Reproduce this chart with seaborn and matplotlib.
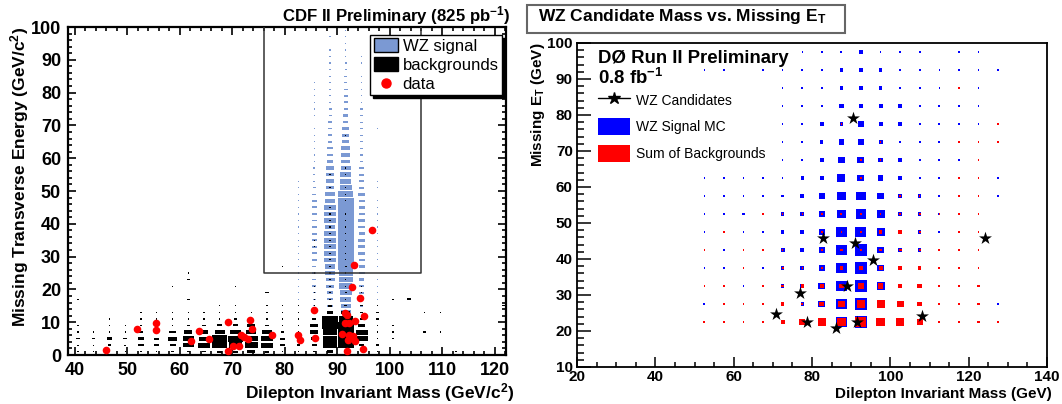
import numpy as np
import pandas as pd
import matplotlib
matplotlib.use("Agg")
import matplotlib.pyplot as plt
import seaborn as sns
from matplotlib.patches import Patch, Rectangle
from matplotlib.lines import Line2D
from matplotlib.ticker import MultipleLocator

# ---------------- data: left panel (CDF) ----------------
cdf_mass_bins = [40.6, 43.6, 46.6, 49.6, 52.6, 55.6, 58.6, 61.6, 64.6, 67.6, 70.6, 73.6, 76.6, 79.6,
                 82.6, 85.6, 88.6, 91.6, 94.6, 97.6, 100.6, 103.6, 106.6, 109.6, 112.6, 115.6, 118.6, 121.6]
cdf_met_bins = [1, 3, 5, 7, 9, 11, 13, 15, 17, 19, 21, 23, 25, 27, 29, 31, 33, 35, 37, 39, 41, 43, 45, 47, 49,
                51, 53, 55, 57, 59, 61, 63, 65, 67, 69, 71, 73, 75, 77, 79, 81, 83, 85, 87, 89, 91, 93, 95, 97, 99]

# background box content per mass column, listed from the lowest MET bin upward
cdf_background = {
    40.6: [6, 6, 21, 6, 6, 0, 0, 0, 13],
    43.6: [6, 6, 17, 6],
    46.6: [6, 21, 34, 6, 6, 6],
    49.6: [6, 13, 26, 6, 6],
    52.6: [6, 34, 38, 21, 6, 6, 6],
    55.6: [6, 34, 30, 17, 6, 6, 6],
    58.6: [17, 38, 60, 43, 6, 6, 6, 0, 0, 0, 6],
    61.6: [21, 68, 68, 51, 17, 6, 6, 0, 17, 0, 0, 17, 6],
    64.6: [21, 77, 62, 51, 21, 6, 6],
    67.6: [30, 94, 98, 66, 30, 6, 6, 6],
    70.6: [30, 85, 94, 68, 30, 17, 6, 6, 0, 0, 6],
    73.6: [51, 85, 85, 64, 51, 21, 6],
    76.6: [30, 77, 77, 64, 21, 6, 6, 6, 0, 21],
    79.6: [6, 30, 30, 21, 6, 6, 6, 6, 0, 0, 0, 0, 0, 6],
    82.6: [6, 21, 21, 6, 6, 6, 6, 6],
    85.6: [17, 30, 38, 51, 51, 26, 21, 6, 6, 6, 6, 0, 6, 0, 0, 0, 6, 6],
    88.6: [43, 94, 94, 85, 98, 98, 43, 26, 17, 6, 6, 6, 6, 6, 6, 6, 6, 6, 6, 6, 6, 6, 6, 0, 0, 6, 0, 6],
    91.6: [26, 100, 100, 100, 100, 85, 55, 21, 6, 13, 6, 6, 6, 13, 6, 6, 6, 6, 6, 6, 6, 6, 0, 6, 6, 6,
           0, 6, 6, 0, 0, 0, 0, 6],
    94.6: [6, 30, 77, 77, 47, 21, 21, 21, 6, 6, 6],
    97.6: [6, 21, 6, 6, 6, 17, 17, 6],
    100.6: [0, 0, 6, 6, 6, 0, 0, 0, 13],
    103.6: [0, 0, 0, 0, 0, 0, 0, 0, 26],
    106.6: [0, 0, 0, 17, 0, 0, 6],
    109.6: [0, 0, 0, 6, 0, 0, 6],
    112.6: [6],
    121.6: [0, 0, 0, 0, 0, 0, 0, 17],
}

# WZ signal box content per mass column, lowest MET bin upward (50 bins)
cdf_signal = {
    82.6: [0, 0, 0, 0, 0, 6, 6, 6, 6, 6, 6, 6, 6, 6, 6, 6, 6, 6, 6, 6, 6, 6, 6, 6, 6,
           6, 6, 0, 0, 0, 0, 0, 0, 0, 0, 0, 0, 0, 0, 0, 0, 0, 0, 0, 0, 0, 0, 0, 0, 0],
    85.6: [6, 6, 6, 6, 9, 9, 13, 13, 17, 17, 21, 21, 21, 21, 26, 26, 30, 26, 26, 26, 26, 26, 26, 26, 21,
           17, 13, 11, 11, 9, 6, 6, 6, 6, 6, 0, 6, 6, 6, 6, 6, 6, 0, 0, 0, 0, 0, 0, 0, 0],
    88.6: [6, 10, 12, 15, 18, 22, 26, 30, 34, 38, 43, 51, 55, 60, 64, 72, 68, 64, 64, 60, 64, 64, 64, 60, 60,
           47, 47, 47, 43, 38, 30, 30, 26, 21, 21, 21, 17, 17, 13, 13, 13, 13, 11, 9, 6, 6, 6, 0, 6, 0],
    91.6: [20, 30, 35, 40, 45, 50, 55, 60, 64, 68, 75, 77, 81, 85, 94, 98, 98, 94, 88, 94, 94, 94, 94, 88, 85,
           68, 64, 64, 60, 51, 51, 51, 38, 38, 38, 30, 30, 26, 26, 26, 21, 17, 17, 13, 13, 6, 6, 6, 6, 6],
    94.6: [6, 6, 9, 9, 13, 13, 17, 21, 21, 26, 30, 30, 34, 34, 34, 38, 38, 38, 34, 38, 38, 34, 34, 34, 38,
           30, 30, 26, 30, 21, 21, 17, 17, 13, 13, 13, 13, 13, 9, 9, 6, 6, 6, 0, 6, 6, 0, 0, 0, 0],
    97.6: [0, 0, 0, 0, 0, 0, 6, 0, 6, 6, 6, 6, 0, 6, 6, 6, 6, 6, 6, 6, 6, 6, 6, 6, 0,
           6, 6, 0, 0, 0, 0, 0, 0, 0, 6, 0, 0, 0, 0, 0, 0, 0, 0, 0, 0, 0, 0, 0, 0, 0],
}

cdf_data_mass = [45.85, 51.8, 55.5, 55.5, 62.1, 63.6, 65.5, 69.1, 69.1, 70.1, 71.3, 71.7, 72.2, 72.9,
                 73.4, 73.7, 77.5, 82.55, 82.9, 85.6, 85.8, 90.9, 91.4, 91.8, 91.5, 92.0, 91.9, 92.2,
                 92.3, 92.7, 93.2, 93.0, 93.3, 93.4, 94.3, 95.1, 94.8, 96.6]
cdf_data_met = [1.5, 7.8, 9.9, 7.6, 4.2, 7.4, 5.0, 10.1, 1.3, 2.8, 2.6, 6.1, 5.4, 4.8,
                10.7, 7.8, 6.2, 6.2, 4.6, 13.8, 5.2, 6.4, 12.7, 12.3, 9.9, 4.6, 1.3, 6.2,
                9.9, 20.7, 27.5, 5.9, 4.2, 10.5, 17.3, 12.0, 1.8, 38.2]
cdf_signal_region_mass = [76, 106]
cdf_signal_region_met = [25, 100]

# ---------------- data: right panel (D0) ----------------
d0_mass_bins = [52.5, 57.5, 62.5, 67.5, 72.5, 77.5, 82.5, 87.5, 92.5, 97.5, 102.5, 107.5, 112.5, 117.5, 122.5, 127.5]
d0_met_bins = [97.5, 92.5, 87.5, 82.5, 77.5, 72.5, 67.5, 62.5, 57.5, 52.5, 47.5, 42.5, 37.5, 32.5, 27.5, 22.5]
d0_signal = [
    [0, 0, 0, 0, 0, 5, 8, 8, 14, 8, 8, 7, 0, 5, 5, 0],
    [5, 5, 0, 5, 7, 10, 10, 14, 15, 15, 10, 8, 5, 5, 5, 5],
    [0, 0, 0, 0, 5, 10, 10, 15, 20, 15, 10, 10, 5, 0, 5, 0],
    [0, 0, 0, 0, 7, 10, 10, 19, 20, 17, 14, 10, 7, 5, 5, 0],
    [0, 0, 0, 0, 5, 10, 15, 15, 24, 17, 14, 10, 10, 5, 5, 0],
    [0, 0, 0, 0, 7, 10, 14, 24, 24, 17, 10, 10, 10, 0, 0, 0],
    [0, 0, 0, 0, 7, 10, 17, 27, 30, 20, 14, 10, 10, 5, 0, 0],
    [5, 5, 7, 7, 7, 14, 17, 34, 30, 24, 14, 10, 7, 0, 0, 5],
    [5, 5, 5, 8, 10, 15, 24, 37, 41, 27, 14, 14, 10, 7, 0, 5],
    [5, 8, 10, 10, 14, 17, 27, 37, 44, 34, 17, 14, 10, 0, 0, 0],
    [5, 0, 8, 8, 14, 17, 27, 44, 47, 34, 17, 14, 7, 0, 0, 0],
    [0, 8, 8, 8, 17, 17, 27, 44, 51, 30, 17, 14, 0, 0, 0, 0],
    [5, 5, 8, 8, 14, 15, 27, 44, 51, 30, 17, 0, 0, 0, 0, 0],
    [5, 8, 8, 8, 14, 17, 30, 47, 54, 34, 0, 0, 0, 0, 0, 0],
    [10, 8, 8, 0, 0, 14, 30, 44, 51, 0, 0, 0, 0, 0, 0, 5],
    [0, 0, 0, 0, 0, 0, 0, 44, 51, 0, 0, 0, 0, 0, 0, 0],
]
d0_background = [
    [0, 0, 0, 0, 0, 0, 0, 0, 0, 0, 0, 0, 0, 0, 0, 0],
    [0, 0, 0, 0, 0, 0, 0, 0, 0, 0, 0, 0, 0, 0, 0, 0],
    [0, 0, 0, 0, 0, 0, 0, 0, 0, 0, 0, 0, 0, 5, 0, 0],
    [0, 0, 0, 0, 0, 0, 0, 0, 0, 0, 0, 0, 0, 0, 0, 0],
    [0, 0, 0, 0, 0, 0, 0, 3, 0, 0, 0, 0, 0, 0, 0, 5],
    [0, 0, 0, 0, 0, 0, 0, 0, 0, 3, 0, 0, 0, 5, 5, 5],
    [0, 0, 0, 0, 0, 0, 0, 0, 3, 3, 0, 0, 0, 0, 5, 0],
    [0, 0, 0, 0, 0, 0, 0, 0, 3, 0, 0, 0, 0, 5, 5, 0],
    [0, 0, 0, 0, 0, 0, 0, 0, 0, 0, 3, 3, 0, 3, 5, 0],
    [0, 0, 0, 3, 3, 3, 7, 8, 5, 5, 10, 7, 5, 5, 7, 0],
    [0, 5, 0, 0, 0, 0, 8, 7, 8, 14, 14, 8, 0, 5, 5, 0],
    [5, 0, 3, 3, 7, 0, 10, 10, 10, 12, 12, 10, 8, 8, 5, 0],
    [0, 0, 3, 0, 8, 5, 10, 15, 14, 17, 17, 14, 10, 5, 7, 0],
    [5, 3, 0, 3, 10, 14, 17, 20, 27, 24, 20, 20, 10, 10, 10, 0],
    [0, 3, 3, 10, 14, 10, 20, 30, 37, 34, 30, 20, 10, 10, 10, 0],
    [10, 10, 8, 10, 17, 24, 34, 41, 47, 41, 34, 27, 10, 10, 10, 10],
]
d0_cand_mass = [90.4, 82.8, 91.1, 95.6, 124.2, 89.0, 77.0, 70.7, 78.6, 86.2, 91.4, 108.1]
d0_cand_met = [79.1, 45.7, 44.4, 39.6, 45.7, 32.6, 30.5, 24.8, 22.4, 20.9, 22.4, 24.3]

# ---------------- style ----------------
sns.set_theme(style="ticks")
plt.rcParams['font.family'] = ['Liberation Sans', 'DejaVu Sans']
plt.rcParams['mathtext.fontset'] = 'custom'
plt.rcParams['mathtext.rm'] = 'Liberation Sans:bold'
plt.rcParams['mathtext.it'] = 'Liberation Sans:bold'
plt.rcParams['mathtext.bf'] = 'Liberation Sans:bold'
plt.rcParams['mathtext.default'] = 'rm'
for k in ['axes.edgecolor', 'text.color', 'axes.labelcolor', 'xtick.color', 'ytick.color']:
    plt.rcParams[k] = 'black'

CDF_BLUE = '#7b99d3'


def long_frame(cols, rows, table):
    recs = []
    for c in cols:
        vals = table.get(c, [])
        for r, v in zip(rows, vals):
            if v > 0:
                recs.append((c, r, v))
    return pd.DataFrame(recs, columns=['mass', 'met', 'content'])


def draw_boxes(ax, df, binw, binh, color, minw, minh, z, scale=1.0):
    f = np.minimum(df['content'].to_numpy(float) / 100.0 * scale, 1.0)
    w = np.maximum(binw * f, minw)
    h = np.maximum(binh * f, minh)
    ax.bar(df['mass'].to_numpy(float), h, width=w, bottom=df['met'].to_numpy(float) - h / 2,
           color=color, linewidth=0, zorder=z, align='center')


fig = plt.figure(figsize=(10.62, 4.04), dpi=100)

# ---------------- left panel ----------------
axL = fig.add_axes([68 / 1062, 49 / 404, 438 / 1062, 328 / 404])
sig_df = long_frame(cdf_mass_bins, cdf_met_bins, cdf_signal)
bkg_df = long_frame(cdf_mass_bins, cdf_met_bins, cdf_background)
draw_boxes(axL, sig_df, 3.0, 2.0, CDF_BLUE, 0.25, 0.37, 2, scale=1.12)
draw_boxes(axL, bkg_df, 3.0, 2.0, 'black', 0.25, 0.37, 3)
pts = pd.DataFrame({'mass': cdf_data_mass, 'met': cdf_data_met})
sns.scatterplot(data=pts, x='mass', y='met', ax=axL, color='#ff0000', s=30, linewidth=0, zorder=5)
m0, m1 = cdf_signal_region_mass
e0, e1 = cdf_signal_region_met
axL.plot([m0, m0, m1, m1], [e1, e0, e0, e1], color='#333333', lw=1.1, zorder=4)

axL.set_xlim(38.7, 122.1)
axL.set_ylim(0, 100)
axL.set_xticks(range(40, 121, 10))
axL.set_yticks(range(0, 101, 10))
axL.xaxis.set_minor_locator(MultipleLocator(2))
axL.yaxis.set_minor_locator(MultipleLocator(2))
axL.tick_params(which='both', direction='in', top=True, right=True, width=1.2)
axL.tick_params(which='major', length=6)
axL.tick_params(which='minor', length=3)
axL.tick_params(axis='x', which='major', labelsize=13, pad=5)
axL.tick_params(axis='y', which='major', labelsize=13, pad=5)
for lab in axL.get_xticklabels() + axL.get_yticklabels():
    lab.set_fontweight('bold')
for s in axL.spines.values():
    s.set_linewidth(1.6)
axL.set_xlabel('Dilepton Invariant Mass (GeV/c$^{2}$)', fontsize=12.5, fontweight='bold', ha='right')
axL.xaxis.set_label_coords(1.018, -0.081)
axL.set_ylabel('Missing Transverse Energy (GeV/c$^{2}$)', fontsize=12.5, fontweight='bold', loc='top', labelpad=0)

handlesL = [Patch(facecolor=CDF_BLUE, edgecolor='black', linewidth=1.0),
            Patch(facecolor='black', edgecolor='black'),
            Line2D([], [], marker='o', color='#ff0000', ls='', markersize=6.5)]
legL = axL.legend(handlesL, ['WZ signal', 'backgrounds', 'data'], loc='upper right',
                  bbox_to_anchor=(0.991, 0.9756), borderaxespad=0, fontsize=12, handlelength=1.45,
                  handleheight=0.85, labelspacing=0.22, handletextpad=0.3, borderpad=0.2,
                  frameon=True, fancybox=False, shadow={'color': 'black', 'alpha': 1})
legL.get_frame().set_edgecolor('black')
legL.get_frame().set_linewidth(1.0)
legL.get_frame().set_alpha(1)
legL.set_zorder(10)

fig.text(510 / 1062, 1 - 21.5 / 404, 'CDF II Preliminary (825 pb$^{-1}$)', ha='right', va='baseline',
         fontsize=12.1, fontweight='bold')

# ---------------- right panel ----------------
axR = fig.add_axes([577 / 1062, 37 / 404, 470 / 1062, 324 / 404])
d0_sig_table = {c: [row[j] for row in d0_signal] for j, c in enumerate(d0_mass_bins)}
d0_bkg_table = {c: [row[j] for row in d0_background] for j, c in enumerate(d0_mass_bins)}
d0_sig_df = long_frame(d0_mass_bins, d0_met_bins, d0_sig_table)
d0_bkg_df = long_frame(d0_mass_bins, d0_met_bins, d0_bkg_table)
draw_boxes(axR, d0_sig_df, 5.0, 5.0, '#0000ff', 0.33, 0.36, 2, scale=1.2)
draw_boxes(axR, d0_bkg_df, 5.0, 5.0, '#ff0000', 0.33, 0.36, 3, scale=1.2)
cand = pd.DataFrame({'mass': d0_cand_mass, 'met': d0_cand_met})
sns.scatterplot(data=cand, x='mass', y='met', ax=axR, color='black', marker='*', s=95, linewidth=0, zorder=5)

axR.set_xlim(20, 140)
axR.set_ylim(10, 100)
axR.set_xticks(range(20, 141, 20))
axR.set_yticks(range(10, 101, 10))
axR.xaxis.set_minor_locator(MultipleLocator(5))
axR.yaxis.set_minor_locator(MultipleLocator(2))
axR.tick_params(which='both', direction='in', top=False, right=False, width=1.1)
axR.tick_params(axis='x', which='major', length=7, labelsize=11, pad=2.5)
axR.tick_params(axis='x', which='minor', length=3.5)
axR.tick_params(axis='y', which='major', length=10, labelsize=11, pad=3)
axR.tick_params(axis='y', which='minor', length=5)
for lab in axR.get_xticklabels() + axR.get_yticklabels():
    lab.set_fontweight('bold')
for s in axR.spines.values():
    s.set_linewidth(1.3)
axR.set_xlabel('Dilepton Invariant Mass (GeV)', fontsize=11, fontweight='bold', ha='right')
axR.xaxis.set_label_coords(1.0106, -0.062)
axR.set_ylabel('Missing E$_{T}$ (GeV)', fontsize=11, fontweight='bold', loc='top', labelpad=0)

axR.text(0.0445, 0.938, 'DØ Run II Preliminary', transform=axR.transAxes, fontsize=13.4,
         fontweight='bold', va='baseline', ha='left')
axR.text(0.0445, 0.872, '0.8 fb$^{-1}$', transform=axR.transAxes, fontsize=13.4,
         fontweight='bold', va='baseline', ha='left')

handlesR = [Line2D([], [], color='black', marker='*', markersize=9, lw=1.0),
            Patch(facecolor='#0000ff', edgecolor='none'),
            Patch(facecolor='#ff0000', edgecolor='none')]
legR = axR.legend(handlesR, ['WZ Candidates', 'WZ Signal MC', 'Sum of Backgrounds'], loc='upper left',
                  bbox_to_anchor=(0.044, 0.85), borderaxespad=0, borderpad=0, fontsize=10,
                  handlelength=2.3, handleheight=1.5, labelspacing=0.7, handletextpad=0.45, frameon=False)

fig.patches.append(Rectangle((527 / 1062, 1 - 33 / 404), 318 / 1062, 28 / 404, transform=fig.transFigure,
                             facecolor='white', edgecolor='#666666', linewidth=1.5, zorder=1))
fig.text(537.5 / 1062, 1 - 21 / 404, 'WZ Candidate Mass vs. Missing E$_{T}$', ha='left', va='baseline',
         fontsize=12.5, fontweight='bold', zorder=2)

fig.savefig('out.png', dpi=100)
